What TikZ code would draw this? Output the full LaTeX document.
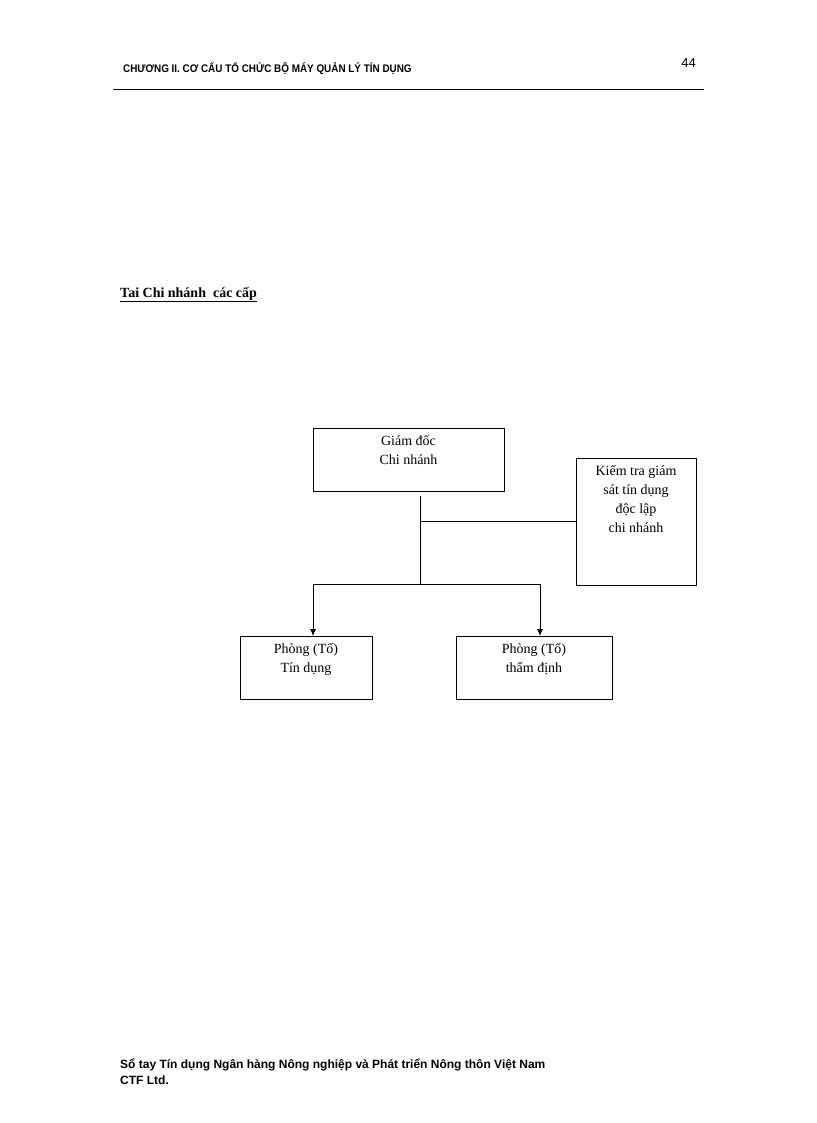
\documentclass[tikz,border=0pt]{standalone}
\usepackage{fontspec}
\usetikzlibrary{arrows.meta}
\setmainfont{Liberation Serif}
\newfontfamily\hdr{Liberation Sans}
\begin{document}
\begin{tikzpicture}[x=1pt,y=-1pt,
  box/.style={draw,line width=0.8pt,inner sep=0pt},
  lbl/.style={anchor=north,align=center,font=\fontsize{14}{19}\selectfont},
  conn/.style={line width=0.8pt},
  arr/.style={conn,-{Latex[length=7pt,width=6pt]}}]
\useasboundingbox (0,0) rectangle (816,1123);
\node[anchor=base west,font=\hdr\bfseries\fontsize{11}{13}\selectfont,xscale=0.9] (h) at (120,73) {CHƯƠNG II. CƠ CẤU TỔ CHỨC BỘ MÁY QUẢN LÝ TÍN DỤNG};
\node[anchor=base east,font=\hdr\fontsize{13}{15}\selectfont,inner sep=0pt] (pg) at (696,68) {44};
\coordinate (r1) at (113,90); \coordinate (r2) at (704,90);
\draw[line width=1pt] (r1) -- (r2);
\node[anchor=base west,font=\bfseries\fontsize{14}{16}\selectfont,inner sep=0pt] (t) at (120,297) {\underline{Tai Chi nhánh\ \ các cấp}};
\node[box,minimum width=191pt,minimum height=63pt,anchor=north west] (gd) at (313,428) {};
\node[lbl] (gdt) at (408.5,432) {Giám đốc\\Chi nhánh};
\node[box,minimum width=120pt,minimum height=127pt,anchor=north west] (kt) at (576,458) {};
\node[lbl] (ktt) at (636,462) {Kiểm tra giám\\sát tín dụng\\độc lập\\chi nhánh};
\node[box,minimum width=132pt,minimum height=63pt,anchor=north west] (td) at (240,636) {};
\node[lbl] (tdt) at (306,640) {Phòng (Tổ)\\Tín dụng};
\node[box,minimum width=156pt,minimum height=63pt,anchor=north west] (tdi) at (456,636) {};
\node[lbl] (tdit) at (534,640) {Phòng (Tổ)\\thẩm định};
\coordinate (a) at (420,496); \coordinate (b) at (420,584); \coordinate (m) at (420,521);
\coordinate (l) at (313,584); \coordinate (r) at (540,584);
\coordinate (le) at (313,636); \coordinate (re) at (540,636);
\draw[conn] (a) -- (b);
\draw[conn] (m) -- (kt.west |- m);
\draw[conn] (l) -- (r);
\draw[arr] (l) -- (le);
\draw[arr] (r) -- (re);
\node[anchor=base west,align=left,font=\hdr\bfseries\fontsize{12}{16}\selectfont,inner sep=0pt] (f) at (120,1084) {Sổ tay Tín dụng Ngân hàng Nông nghiệp và Phát triển Nông thôn Việt Nam\\CTF Ltd.};
\end{tikzpicture}
\end{document}
